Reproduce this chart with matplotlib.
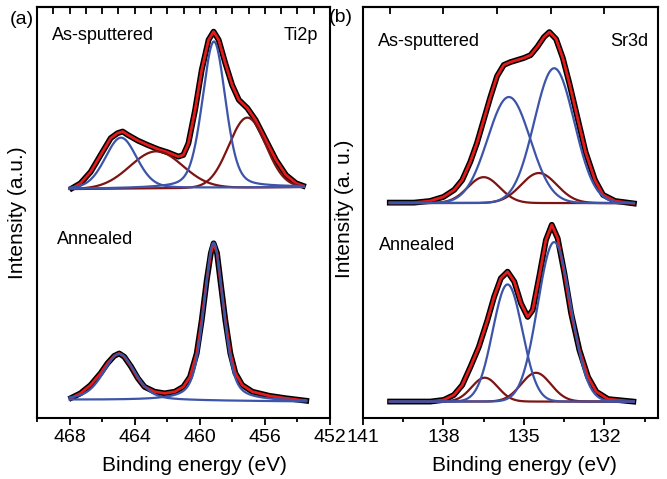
import numpy as np
import matplotlib
matplotlib.use("Agg")
import matplotlib.pyplot as plt
from matplotlib.ticker import MultipleLocator, FixedLocator

plt.rcParams['font.family'] = ['Liberation Sans', 'DejaVu Sans']

# Ti2p as-sputtered
ti_sp_ev = [467.85, 467.33, 466.7, 466.09, 465.47, 465.05, 464.74, 464.43, 463.81, 463.19,
            462.57, 461.94, 461.32, 461.01, 460.70, 460.29, 459.88, 459.46, 459.15, 458.84,
            458.43, 458.01, 457.6, 457.08, 456.57, 455.94, 455.32, 454.70, 454.08, 453.66]
ti_sp_int = [0.559, 0.571, 0.599, 0.640, 0.681, 0.693, 0.697, 0.689, 0.675, 0.664,
             0.654, 0.646, 0.636, 0.640, 0.668, 0.749, 0.847, 0.920, 0.940, 0.920,
             0.863, 0.810, 0.774, 0.754, 0.725, 0.676, 0.628, 0.591, 0.571, 0.565]

# Ti2p annealed
ti_an_ev = [467.89, 467.33, 466.71, 466.09, 465.67, 465.26, 464.95, 464.64, 464.22, 463.81,
            463.40, 462.78, 462.16, 461.53, 461.01, 460.60, 460.19, 459.88, 459.57, 459.32,
            459.15, 458.94, 458.74, 458.43, 458.12, 457.81, 457.39, 456.77, 455.73, 454.70,
            453.46]
ti_an_int = [0.049, 0.060, 0.080, 0.109, 0.133, 0.151, 0.157, 0.149, 0.125, 0.097,
             0.076, 0.064, 0.060, 0.064, 0.076, 0.100, 0.157, 0.238, 0.336, 0.401,
             0.425, 0.401, 0.336, 0.238, 0.157, 0.109, 0.080, 0.064, 0.054, 0.048,
             0.042]

# Sr3d as-sputtered
sr_sp_ev = [140.0, 139.1, 138.5, 138.0, 137.6, 137.3, 137.0, 136.75, 136.5, 136.25,
            136.0, 135.75, 135.5, 135.25, 135.0, 134.75, 134.5, 134.25, 134.05, 133.8,
            133.55, 133.3, 133.0, 132.7, 132.35, 132.05, 131.6, 130.9]
sr_sp_int = [0.524, 0.524, 0.528, 0.538, 0.555, 0.579, 0.623, 0.669, 0.725, 0.781,
             0.832, 0.859, 0.866, 0.871, 0.876, 0.883, 0.903, 0.927, 0.939, 0.922,
             0.876, 0.813, 0.730, 0.647, 0.579, 0.543, 0.528, 0.522]

# Sr3d annealed
sr_an_ev = [139.99, 138.49, 137.99, 137.61, 137.30, 136.99, 136.68, 136.36, 136.11, 135.86,
            135.61, 135.36, 135.11, 134.86, 134.67, 134.43, 134.18, 133.96, 133.74, 133.49,
            133.24, 132.93, 132.61, 132.30, 131.86, 130.92]
sr_an_int = [0.040, 0.040, 0.044, 0.056, 0.080, 0.125, 0.173, 0.238, 0.295, 0.340,
             0.356, 0.332, 0.279, 0.246, 0.263, 0.344, 0.433, 0.470, 0.437, 0.352,
             0.255, 0.165, 0.100, 0.064, 0.046, 0.040]

# ================= fitted components (center eV, height, FWHM eV, Lorentz fraction) =================
ti_sp_center = [464.84, 459.13, 462.67, 457.08]
ti_sp_height = [0.124, 0.356, 0.090, 0.170]
ti_sp_fwhm = [2.3, 1.68, 3.8, 2.67]
ti_sp_eta = [0.2, 0.3, 0.0, 0.0]
ti_sp_kind = ['blue', 'blue', 'brown', 'brown']
ti_sp_range = [468.0, 453.6]
ti_sp_base = [0.557, 0.562]

ti_an_center = [464.95, 459.15]
ti_an_height = [0.113, 0.385]
ti_an_fwhm = [2.3, 1.42]
ti_an_eta = [0.4, 0.45]
ti_an_kind = ['blue', 'blue']
ti_an_range = [468.0, 453.5]
ti_an_base = [0.044, 0.040]

sr_sp_center = [135.56, 133.87, 136.5, 134.44]
sr_sp_height = [0.258, 0.328, 0.063, 0.073]
sr_sp_fwhm = [1.87, 1.75, 1.4, 1.57]
sr_sp_eta = [0.0, 0.0, 0.0, 0.0]
sr_sp_kind = ['blue', 'blue', 'brown', 'brown']
sr_sp_range = [140.0, 130.9]
sr_sp_base = [0.523, 0.523]

sr_an_center = [135.61, 133.87, 136.46, 134.55]
sr_an_height = [0.285, 0.388, 0.058, 0.070]
sr_an_fwhm = [1.3, 1.45, 1.15, 1.3]
sr_an_eta = [0.0, 0.0, 0.0, 0.0]
sr_an_kind = ['blue', 'blue', 'brown', 'brown']
sr_an_range = [140.0, 130.9]
sr_an_base = [0.040, 0.040]

COL = {'blue': '#3d55a8', 'brown': '#7d1414', 'red': '#e41b1b', 'data': '#000000'}


def pv(x, c, h, fwhm, eta):
    s = fwhm / 2.3548
    g = np.exp(-(x - c) ** 2 / (2 * s * s))
    l = 1.0 / (1.0 + ((x - c) / (fwhm / 2)) ** 2)
    return h * ((1 - eta) * g + eta * l)


def draw_set(ax, ev, inten, centers, heights, fwhms, etas, kinds, xr, base):
    ax.plot(ev, inten, color=COL['data'], lw=4.2, zorder=2, solid_joinstyle='round')
    ax.plot(ev, inten, color=COL['red'], lw=2.0, zorder=3, solid_joinstyle='round')
    x = np.linspace(xr[0], xr[1], 600)
    b = base[0] + (base[1] - base[0]) * (x - xr[0]) / (xr[1] - xr[0])
    for k_draw in ['brown', 'blue']:
        for c, h, w, e, k in zip(centers, heights, fwhms, etas, kinds):
            if k == k_draw:
                ax.plot(x, b + pv(x, c, h, w, e), color=COL[k], lw=1.6,
                        zorder=4 if k == 'brown' else 5)


fig = plt.figure(figsize=(6.67, 4.79), dpi=100)
axL = fig.add_axes([37 / 667, 1 - 418 / 479, 293 / 667, 411 / 479])
axR = fig.add_axes([363 / 667, 1 - 418 / 479, 295 / 667, 411 / 479])

draw_set(axL, ti_sp_ev, ti_sp_int, ti_sp_center, ti_sp_height, ti_sp_fwhm, ti_sp_eta,
         ti_sp_kind, ti_sp_range, ti_sp_base)
draw_set(axL, ti_an_ev, ti_an_int, ti_an_center, ti_an_height, ti_an_fwhm, ti_an_eta,
         ti_an_kind, ti_an_range, ti_an_base)
draw_set(axR, sr_sp_ev, sr_sp_int, sr_sp_center, sr_sp_height, sr_sp_fwhm, sr_sp_eta,
         sr_sp_kind, sr_sp_range, sr_sp_base)
draw_set(axR, sr_an_ev, sr_an_int, sr_an_center, sr_an_height, sr_an_fwhm, sr_an_eta,
         sr_an_kind, sr_an_range, sr_an_base)

left_ticks = [468, 464, 460, 456, 452]
right_ticks = [141, 138, 135, 132]

for ax, xl, major, minor, top_ticks, ylab in [
        (axL, (470, 452), left_ticks, 2, list(range(469, 452, -1)), 'Intensity (a.u.)'),
        (axR, (141, 130), right_ticks, 1.5, [140, 138, 136, 134, 132], 'Intensity (a. u.)')]:
    ax.set_xlim(*xl)
    ax.set_ylim(0, 1)
    ax.set_yticks([])
    ax.xaxis.set_major_locator(FixedLocator(major))
    ax.xaxis.set_minor_locator(MultipleLocator(minor))
    ax.tick_params(axis='x', which='major', direction='out', length=5, width=1.3,
                   labelsize=14, pad=3)
    ax.tick_params(axis='x', which='minor', direction='out', length=3, width=1.3)
    for sp in ax.spines.values():
        sp.set_linewidth(1.5)
    sec = ax.secondary_xaxis('top')
    sec.set_xticks(top_ticks)
    sec.set_xticklabels([])
    sec.tick_params(direction='in', length=5, width=1.3)
    sec.spines['top'].set_linewidth(1.5)
    ax.set_xlabel('Binding energy (eV)', fontsize=15)
    ax.set_ylabel(ylab, fontsize=15)

axL.xaxis.set_label_coords(0.536, -0.092)
axR.xaxis.set_label_coords(0.546, -0.092)
axL.yaxis.set_label_coords(-0.034, 0.5)
axR.yaxis.set_label_coords(-0.030, 0.51)

fs = 13
axL.text((52 - 37) / 293, (418 - 36) / 411, 'As-sputtered', transform=axL.transAxes,
         fontsize=fs, va='center', ha='left')
axL.text((318 - 37) / 293, (418 - 36) / 411, 'Ti2p', transform=axL.transAxes,
         fontsize=fs, va='center', ha='right')
axL.text((57 - 37) / 293, (418 - 240) / 411, 'Annealed', transform=axL.transAxes,
         fontsize=fs, va='center', ha='left')
axR.text((378 - 363) / 295, (418 - 42) / 411, 'As-sputtered', transform=axR.transAxes,
         fontsize=fs, va='center', ha='left')
axR.text((648 - 363) / 295, (418 - 42) / 411, 'Sr3d', transform=axR.transAxes,
         fontsize=fs, va='center', ha='right')
axR.text((379 - 363) / 295, (418 - 245) / 411, 'Annealed', transform=axR.transAxes,
         fontsize=fs, va='center', ha='left')

fig.text(22 / 667, 1 - 20 / 479, '(a)', fontsize=14, ha='center', va='center')
fig.text(341 / 667, 1 - 17 / 479, '(b)', fontsize=14, ha='center', va='center')

fig.savefig('out.png', dpi=100)
